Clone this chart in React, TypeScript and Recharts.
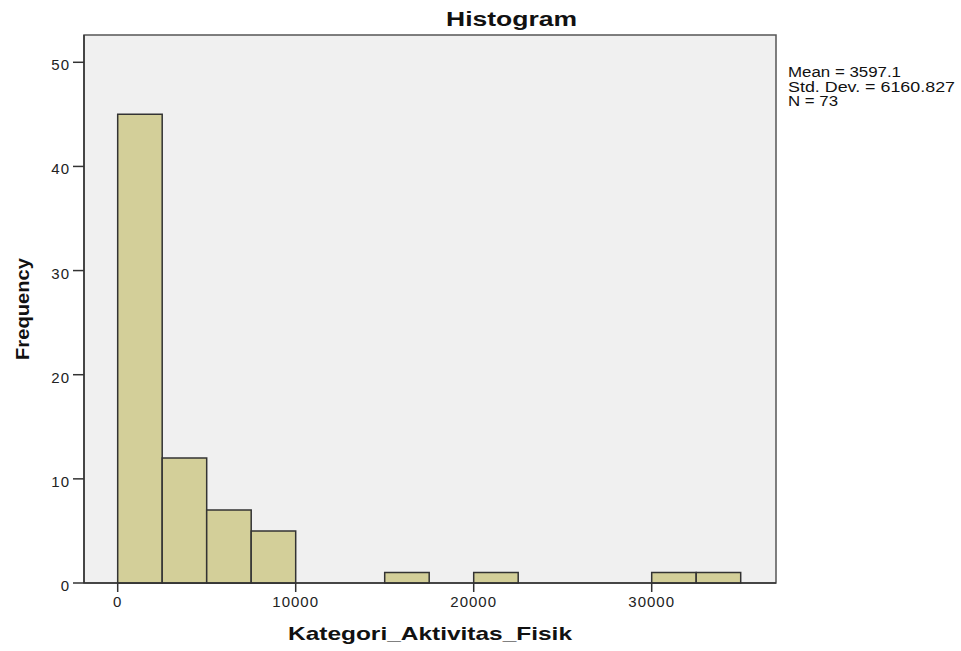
import React from "react";
import { ComposedChart, XAxis, YAxis, Scatter, ReferenceArea } from "recharts";

const binStarts = [0, 2500, 5000, 7500, 15000, 20000, 30000, 32500];
const counts = [45, 12, 7, 5, 1, 1, 1, 1];
const binWidth = 2500;
const xTicks = [0, 10000, 20000, 30000];
const yTicks = [0, 10, 20, 30, 40, 50];
const statLines = ["Mean = 3597.1", "Std. Dev. = 6160.827", "N = 73"];
const title = "Histogram";
const xLabel = "Kategori_Aktivitas_Fisik";
const yLabel = "Frequency";

const bins = binStarts.map((s, i) => ({ start: s, end: s + binWidth, mid: s + binWidth / 2, count: counts[i] }));

const X_DOMAIN: [number, number] = [-1893, 36983];
const Y_DOMAIN: [number, number] = [0, 52.62];
const FONT = "'Liberation Sans', Arial, sans-serif";

const XTick = (props: any) => {
  const { x, y, payload } = props;
  return (
    <text x={x} y={y} dy={13} textAnchor="middle" fontSize={15} letterSpacing={1} fontFamily={FONT} fill="#222">
      {payload.value}
    </text>
  );
};

const YTick = (props: any) => {
  const { x, y, payload } = props;
  return (
    <text x={x - 1} y={y} dy={8} textAnchor="end" fontSize={15} letterSpacing={1} fontFamily={FONT} fill="#222">
      {payload.value}
    </text>
  );
};

export default function App() {
  return (
    <div style={{ position: "absolute", left: 0, top: 0, width: 961, height: 651, background: "#fff" }}>
      <ComposedChart width={961} height={651} data={bins} margin={{ top: 35, right: 185, bottom: 0, left: 0 }}>
        <XAxis
          type="number"
          dataKey="mid"
          domain={X_DOMAIN}
          allowDataOverflow
          ticks={xTicks}
          interval={0}
          height={68}
          tickSize={9}
          tick={<XTick />}
          axisLine={{ stroke: "#333", strokeWidth: 1.5 }}
          tickLine={{ stroke: "#333", strokeWidth: 1.5 }}
        />
        <YAxis
          type="number"
          dataKey="count"
          domain={Y_DOMAIN}
          allowDataOverflow
          ticks={yTicks}
          interval={0}
          width={84}
          tickSize={11}
          tick={<YTick />}
          axisLine={{ stroke: "#333", strokeWidth: 1.5 }}
          tickLine={{ stroke: "#333", strokeWidth: 1.5 }}
        />
        <ReferenceArea
          x1={X_DOMAIN[0]}
          x2={X_DOMAIN[1]}
          y1={Y_DOMAIN[0]}
          y2={Y_DOMAIN[1]}
          fill="#f0f0f0"
          fillOpacity={1}
          stroke="#555"
          strokeWidth={1.5}
          ifOverflow="visible"
        />
        {bins.map((b) => (
          <ReferenceArea
            key={b.start}
            x1={b.start}
            x2={b.end}
            y1={0}
            y2={b.count}
            fill="#d3cf99"
            fillOpacity={1}
            stroke="#333"
            strokeWidth={1.5}
          />
        ))}
        <Scatter dataKey="count" isAnimationActive={false} shape={() => null} />
      </ComposedChart>
      <svg width={961} height={651} style={{ position: "absolute", left: 0, top: 0, pointerEvents: "none" }}>
        <text x={446} y={26} fontSize={20} fontWeight="bold" fontFamily={FONT} fill="#111" textLength={131} lengthAdjust="spacingAndGlyphs">
          {title}
        </text>
        <text x={288} y={640} fontSize={19} fontWeight="bold" fontFamily={FONT} fill="#111" textLength={284} lengthAdjust="spacingAndGlyphs">
          {xLabel}
        </text>
        <text
          x={0}
          y={0}
          transform="translate(29,360) rotate(-90)"
          fontSize={18}
          fontWeight="bold"
          fontFamily={FONT}
          fill="#111"
          textLength={102}
          lengthAdjust="spacingAndGlyphs"
        >
          {yLabel}
        </text>
        {statLines.map((s, i) => (
          <text
            key={s}
            x={788}
            y={77 + i * 14.5}
            fontSize={14}
            fontFamily={FONT}
            fill="#111"
            textLength={[113, 167, 50][i]}
            lengthAdjust="spacingAndGlyphs"
          >
            {s}
          </text>
        ))}
      </svg>
    </div>
  );
}
